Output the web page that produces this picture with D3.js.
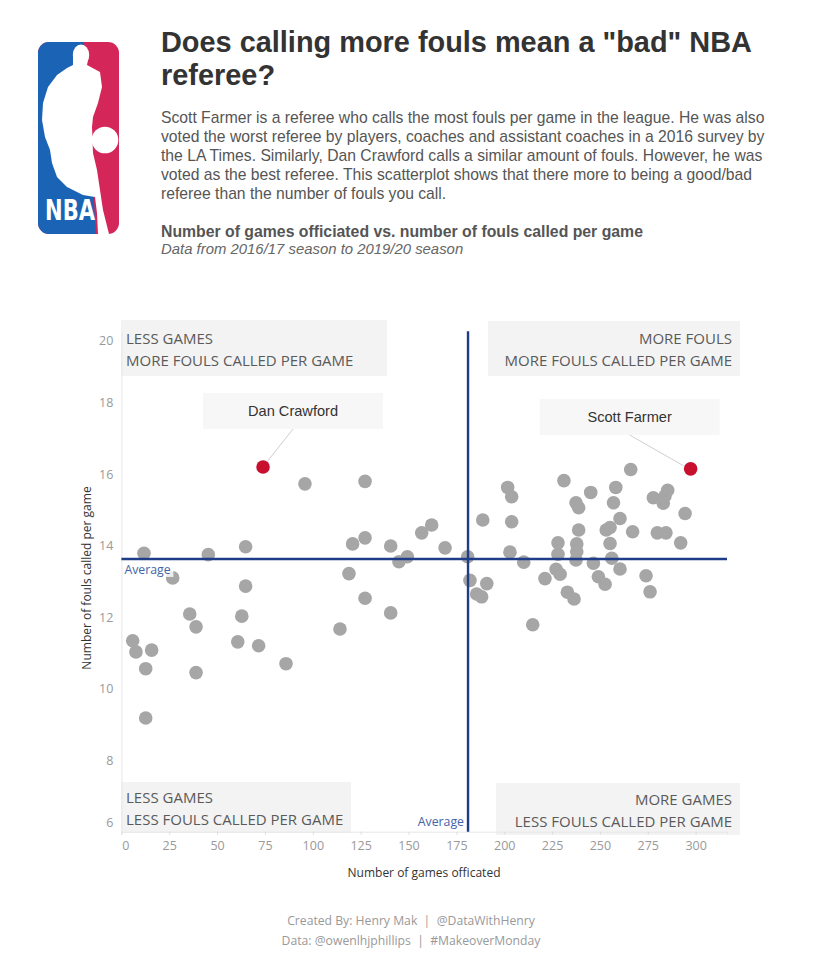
<!DOCTYPE html>
<html>
<head>
<meta charset="utf-8">
<script src="https://cdn.jsdelivr.net/npm/d3@7"></script>
<style>
  body { margin: 0; background: #fff; }
  svg { display: block; }
</style>
</head>
<body>
<div id="chart"></div>
<script>
// DATA
const games = [11.8, 45.4, 64.9, 26.8, 64.9, 35.7, 39.0, 62.9, 5.9, 7.6,
  15.8, 60.8, 71.7, 12.7, 39.0, 86.0, 12.7, 95.9, 114.2, 118.9,
  120.8, 127.3, 127.3, 127.3, 140.7, 140.7, 145.0, 149.4, 156.9, 162.1,
  169.1, 180.9, 182.1, 185.6, 188.2, 190.9, 188.8, 201.8, 203.9, 203.9,
  203.0, 210.2, 214.9, 221.3, 227.1, 228.1, 228.1, 229.2, 231.2, 233.0,
  236.5, 237.5, 238.9, 238.9, 237.9, 237.9, 237.5, 245.2, 246.6, 249.2,
  252.7, 253.3, 255.3, 258.3, 257.1, 255.3, 256.2, 260.5, 260.5, 266.1,
  267.1, 274.1, 276.2, 277.9, 280.0, 284.5, 283.1, 284.0, 285.4, 292.2,
  294.5];
const fouls = [13.79, 13.75, 13.97, 13.10, 12.87, 12.09, 11.73, 12.03, 11.34, 11.03,
  11.08, 11.31, 11.20, 10.56, 10.45, 10.70, 9.18, 15.73, 11.67, 13.22,
  14.05, 15.80, 14.22, 12.53, 13.99, 12.12, 13.55, 13.69, 14.36, 14.58,
  13.94, 13.69, 13.03, 12.65, 12.57, 12.94, 14.72, 15.63, 15.37, 14.67,
  13.82, 13.54, 11.79, 13.08, 13.34, 14.08, 13.76, 13.20, 15.82, 12.70,
  12.51, 15.20, 15.06, 14.44, 14.05, 13.83, 13.60, 15.49, 13.51, 13.13,
  12.92, 14.44, 14.51, 15.63, 15.20, 14.06, 13.65, 13.35, 14.76, 16.13,
  14.39, 13.16, 12.71, 15.34, 14.36, 14.36, 15.19, 15.39, 15.55, 14.08,
  14.90];

const highlightNames = ["Dan Crawford", "Scott Farmer"];
const highlightGames = [74.0, 297.4];
const highlightFouls = [16.20, 16.15];

const avgGames = 181.1;
const avgFouls = 13.63;

const xTicks = [0, 25, 50, 75, 100, 125, 150, 175, 200, 225, 250, 275, 300];
const yTicks = [6, 8, 10, 12, 14, 16, 18, 20];

const quadLabels = [
  ["LESS GAMES", "MORE FOULS CALLED PER GAME"],
  ["MORE FOULS", "MORE FOULS CALLED PER GAME"],
  ["LESS GAMES", "LESS FOULS CALLED PER GAME"],
  ["MORE GAMES", "LESS FOULS CALLED PER GAME"]
];

const titleLines = ['Does calling more fouls mean a "bad" NBA', 'referee?'];
const bodyLines = [
  "Scott Farmer is a referee who calls the most fouls per game in the league. He was also",
  "voted the worst referee by players, coaches and assistant coaches in a 2016 survey by",
  "the LA Times. Similarly, Dan Crawford calls a similar amount of fouls. However, he was",
  "voted as the best referee. This scatterplot shows that there more to being a good/bad",
  "referee than the number of fouls you call."
];
const footerLines = ["Created By: Henry Mak  |  @DataWithHenry", "Data: @owenlhjphillips  |  #MakeoverMonday"];

// SETUP
const W = 819, H = 959;
const tabFont = "'Open Sans', 'Lato', sans-serif";
const svg = d3.select("#chart").append("svg")
  .attr("width", W)
  .attr("height", H);

// LOGO
const logo = svg.append("g").attr("transform", "translate(38,42)");
const defs = svg.append("defs");
defs.append("clipPath").attr("id", "logoClip")
  .append("rect").attr("width", 81).attr("height", 192).attr("rx", 11);
const lg = logo.append("g").attr("clip-path", "url(#logoClip)");
lg.append("rect").attr("width", 81).attr("height", 192).attr("fill", "#d5265a");
lg.append("path").attr("d", "M0,0 L46,0 L58,192 L0,192 Z").attr("fill", "#1b64b5");
lg.append("path")
  .attr("fill", "#fff")
  .attr("d", "M35,12 L35,23 L29,26 L19,33 L10,45 L5,61 L4,78 L7,95 L12,108 L14,121 L19,135 " +
    "L29,145 L45,153 L57,155 L59,171 L60,192 L71,192 L65,168 L62,148 L59,128 L55,111 " +
    "L54,85 L55,75 L60,61 L64,45 L62,30 L49,23 L51,13 Z");
lg.append("ellipse").attr("cx", 43).attr("cy", 13).attr("rx", 8.2).attr("ry", 10.5).attr("fill", "#fff");
lg.append("circle").attr("cx", 67).attr("cy", 98).attr("r", 13.3).attr("fill", "#fff");
lg.append("text")
  .attr("x", 7).attr("y", 178)
  .attr("textLength", 50).attr("lengthAdjust", "spacingAndGlyphs")
  .style("font-family", "'Liberation Sans Narrow', 'DejaVu Sans Condensed', sans-serif")
  .style("font-weight", "bold")
  .style("font-size", "29px")
  .style("fill", "#fff")
  .text("NBA");

// HEADER TEXT
svg.selectAll(".title")
  .data(titleLines)
  .enter().append("text")
  .attr("x", 161)
  .attr("y", (d, i) => 52 + i * 33)
  .style("font-family", "'Liberation Sans', Arial, sans-serif")
  .style("font-weight", "bold")
  .style("font-size", "28.9px")
  .style("fill", "#333")
  .text(d => d);

svg.selectAll(".body")
  .data(bodyLines)
  .enter().append("text")
  .attr("x", 161)
  .attr("y", (d, i) => 123 + i * 19)
  .style("font-family", "'Liberation Sans', Arial, sans-serif")
  .style("font-size", "15.7px")
  .style("fill", "#555")
  .text(d => d);

svg.append("text")
  .attr("x", 161).attr("y", 237)
  .style("font-family", "'Liberation Sans', Arial, sans-serif")
  .style("font-weight", "bold")
  .style("font-size", "15.8px")
  .style("fill", "#555")
  .text("Number of games officiated vs. number of fouls called per game");

svg.append("text")
  .attr("x", 161).attr("y", 254)
  .style("font-family", "'Liberation Sans', Arial, sans-serif")
  .style("font-style", "italic")
  .style("font-size", "14.9px")
  .style("fill", "#666")
  .text("Data from 2016/17 season to 2019/20 season");

// SCALES
const pLeft = 121.4, pRight = 727, pTop = 331.2, pBottom = 831.7;
const xScale = d3.scaleLinear().domain([0, 316.4]).range([pLeft, pRight]);
const yScale = d3.scaleLinear().domain([6, 20]).range([pBottom, pTop]);

// QUADRANT BOXES (behind everything)
const quadBoxes = [
  {x: 121, y: 320, w: 266, h: 56, anchor: "start", tx: 126, ty: [339, 361]},
  {x: 488, y: 321, w: 252, h: 55, anchor: "end", tx: 732, ty: [339, 361]},
  {x: 121, y: 782, w: 230, h: 51, anchor: "start", tx: 126, ty: [798, 820]},
  {x: 496, y: 783, w: 244, h: 52, anchor: "end", tx: 732, ty: [800, 822]}
];
const qg = svg.append("g");
quadBoxes.forEach((b, i) => {
  qg.append("rect")
    .attr("x", b.x).attr("y", b.y).attr("width", b.w).attr("height", b.h)
    .attr("fill", "#f3f3f3");
  quadLabels[i].forEach((t, j) => {
    qg.append("text")
      .attr("x", b.tx).attr("y", b.ty[j])
      .attr("dy", "0.35em")
      .attr("text-anchor", b.anchor)
      .style("font-family", tabFont)
      .style("font-size", "15px")
      .style("fill", "#5a5a5a")
      .text(t);
  });
});

// AXES
const xAxis = d3.axisBottom(xScale).tickValues(xTicks).tickSize(3).tickPadding(6);
const gx = svg.append("g")
  .attr("transform", `translate(0, ${pBottom})`)
  .call(xAxis);
gx.select(".domain").attr("stroke", "#e6e6e6");
gx.selectAll(".tick line").attr("stroke", "#dcdcdc");
gx.selectAll(".tick text")
  .style("font-family", tabFont)
  .style("font-size", "12.5px")
  .style("fill", "#999")
  .attr("dx", d => d === 0 ? 4 : 0);

const yAxis = d3.axisLeft(yScale).tickValues(yTicks).tickSize(0).tickPadding(8);
const gy = svg.append("g")
  .attr("transform", `translate(${pLeft}, 0)`)
  .call(yAxis);
gy.select(".domain").attr("stroke", "#e6e6e6");
gy.selectAll(".tick text")
  .style("font-family", tabFont)
  .style("font-size", "12.5px")
  .style("fill", "#999")
  .attr("dy", d => d === 20 ? "1.05em" : (d === 6 ? "-0.45em" : "0.32em"));

svg.append("text")
  .attr("x", 424).attr("y", 877)
  .attr("text-anchor", "middle")
  .style("font-family", tabFont)
  .style("font-size", "12px")
  .style("fill", "#333")
  .text("Number of games officated");

svg.append("text")
  .attr("transform", "translate(91, 578) rotate(-90)")
  .attr("text-anchor", "middle")
  .style("font-family", tabFont)
  .style("font-size", "12px")
  .style("fill", "#333")
  .text("Number of fouls called per game");

// POINTS
svg.append("g")
  .selectAll("circle")
  .data(games.map((g, i) => [g, fouls[i]]))
  .enter().append("circle")
  .attr("cx", d => xScale(d[0]))
  .attr("cy", d => yScale(d[1]))
  .attr("r", 6.8)
  .attr("fill", "#a6a6a6");

// AVERAGE LINES
const avgColor = "#1f3c88";
svg.append("line")
  .attr("x1", pLeft).attr("x2", pRight)
  .attr("y1", yScale(avgFouls)).attr("y2", yScale(avgFouls))
  .attr("stroke", avgColor).attr("stroke-width", 2.4);
svg.append("line")
  .attr("x1", xScale(avgGames)).attr("x2", xScale(avgGames))
  .attr("y1", pTop).attr("y2", pBottom)
  .attr("stroke", avgColor).attr("stroke-width", 2.4);

const avgLabelStyle = sel => sel
  .style("font-family", tabFont)
  .style("font-size", "12.3px")
  .style("fill", "#4463a8");
svg.append("rect")
  .attr("x", pLeft + 2).attr("y", yScale(avgFouls) + 4)
  .attr("width", 50).attr("height", 14)
  .attr("fill", "#fff").attr("opacity", 0.8);
svg.append("text")
  .attr("x", pLeft + 3).attr("y", yScale(avgFouls) + 11)
  .attr("dy", "0.35em")
  .call(avgLabelStyle)
  .text("Average");
svg.append("text")
  .attr("x", xScale(avgGames) - 4).attr("y", pBottom - 10)
  .attr("dy", "0.35em")
  .attr("text-anchor", "end")
  .call(avgLabelStyle)
  .text("Average");

// HIGHLIGHTED REFEREES
const callouts = [
  {dx: 30, boxTop: 393, w: 180, h: 36, lineEnd: [3, -4]},
  {dx: -61, boxTop: 399, w: 180, h: 36, lineEnd: [-7, -3]}
];
highlightNames.forEach((name, i) => {
  const px = xScale(highlightGames[i]);
  const py = yScale(highlightFouls[i]);
  const c = callouts[i];
  const cx = px + c.dx;
  svg.append("rect")
    .attr("x", cx - c.w / 2).attr("y", c.boxTop)
    .attr("width", c.w).attr("height", c.h)
    .attr("fill", "#f7f7f7");
  svg.append("line")
    .attr("x1", cx).attr("y1", c.boxTop + c.h)
    .attr("x2", px + c.lineEnd[0]).attr("y2", py + c.lineEnd[1])
    .attr("stroke", "#cfcfcf").attr("stroke-width", 1);
  svg.append("text")
    .attr("x", cx).attr("y", c.boxTop + c.h / 2)
    .attr("dy", "0.35em")
    .attr("text-anchor", "middle")
    .style("font-family", "'Liberation Sans', Arial, sans-serif")
    .style("font-size", "14.6px")
    .style("fill", "#333")
    .text(name);
  svg.append("circle")
    .attr("cx", px).attr("cy", py)
    .attr("r", 6.8)
    .attr("fill", "#c8102e");
});

// FOOTER
svg.selectAll(".footer")
  .data(footerLines)
  .enter().append("text")
  .attr("x", 411)
  .attr("y", (d, i) => 925 + i * 20)
  .attr("text-anchor", "middle")
  .attr("xml:space", "preserve")
  .style("white-space", "pre")
  .style("font-family", tabFont)
  .style("font-size", "12.2px")
  .style("fill", "#999")
  .text(d => d);
</script>
</body>
</html>
